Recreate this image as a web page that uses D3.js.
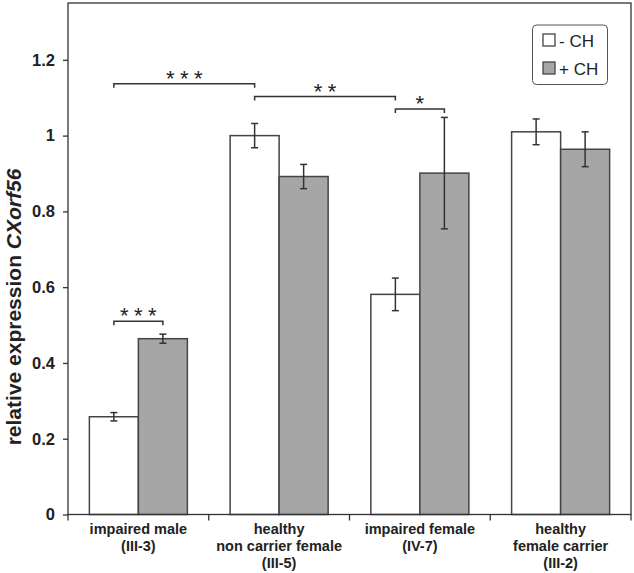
<!DOCTYPE html>
<html>
<head>
<meta charset="utf-8">
<script src="https://cdn.jsdelivr.net/npm/d3@7"></script>
<style>
  body { margin: 0; background: #fff; }
  svg { display: block; font-family: "Liberation Sans", Arial, sans-serif; }
</style>
</head>
<body>
<div id="chart"></div>
<script>
// data
const categories = ["III-3", "III-5", "IV-7", "III-2"];
const categoryLabels = [
  ["impaired male", "(III-3)"],
  ["healthy", "non carrier female", "(III-5)"],
  ["impaired female", "(IV-7)"],
  ["healthy", "female carrier", "(III-2)"]
];
const series = ["- CH", "+ CH"];
const minusCH = [0.258, 1.0, 0.581, 1.010];
const plusCH = [0.464, 0.892, 0.901, 0.964];
const minusErr = [0.011, 0.032, 0.043, 0.034];
const plusErr = [0.012, 0.032, 0.147, 0.046];
const yTicks = [0, 0.2, 0.4, 0.6, 0.8, 1, 1.2];
// significance brackets: [category, series] -> [category, series]
const brackets = [
  { from: [0, 0], to: [1, 0], level: 1.137, stars: 3 },
  { from: [1, 0], to: [2, 0], level: 1.103, stars: 2 },
  { from: [2, 0], to: [2, 1], level: 1.070, stars: 1 },
  { from: [0, 0], to: [0, 1], level: 0.510, stars: 3 }
];

const width = 634, height = 573;
const plotL = 68, plotR = 631, plotT = 3, plotB = 514.5;
const ink = "#333";

const svg = d3.select("#chart").append("svg")
  .attr("width", width).attr("height", height);

const x = d3.scaleBand().domain(categories).range([plotL, plotR]);
const x1 = d3.scaleBand().domain(series).range([0, x.bandwidth()]).paddingOuter(0.436);
const y = d3.scaleLinear().domain([0, 1.35]).range([plotB, plotT]);

const colour = { "- CH": "#ffffff", "+ CH": "#a6a6a6" };
const values = [minusCH, plusCH];
const errs = [minusErr, plusErr];

const rows = [];
categories.forEach((c, i) => {
  series.forEach((s, j) => {
    rows.push({ cat: c, s: s, v: values[j][i], e: errs[j][i] });
  });
});

// bars
svg.append("g").selectAll("rect")
  .data(rows)
  .enter().append("rect")
  .attr("x", d => x(d.cat) + x1(d.s))
  .attr("y", d => y(d.v))
  .attr("width", x1.bandwidth())
  .attr("height", d => y(0) - y(d.v))
  .attr("fill", d => colour[d.s])
  .attr("stroke", "#444")
  .attr("stroke-width", 1.5);

// error bars
const eb = svg.append("g").attr("stroke", ink).attr("stroke-width", 1.5);
rows.forEach(d => {
  const cx = x(d.cat) + x1(d.s) + x1.bandwidth() / 2;
  eb.append("line").attr("x1", cx).attr("x2", cx).attr("y1", y(d.v + d.e)).attr("y2", y(d.v - d.e));
  eb.append("line").attr("x1", cx - 3.5).attr("x2", cx + 3.5).attr("y1", y(d.v + d.e)).attr("y2", y(d.v + d.e));
  eb.append("line").attr("x1", cx - 3.5).attr("x2", cx + 3.5).attr("y1", y(d.v - d.e)).attr("y2", y(d.v - d.e));
});

// frame
svg.append("rect")
  .attr("x", plotL).attr("y", plotT)
  .attr("width", plotR - plotL).attr("height", plotB - plotT)
  .attr("fill", "none").attr("stroke", ink).attr("stroke-width", 1.3);

// y axis
const yAxis = svg.append("g")
  .attr("transform", `translate(${plotL},0)`)
  .call(d3.axisLeft(y).tickValues(yTicks).tickSize(5).tickPadding(8).tickFormat(d => String(d)));
yAxis.select(".domain").remove();
yAxis.selectAll("line").attr("stroke", ink).attr("stroke-width", 1.3);
yAxis.selectAll("text")
  .attr("fill", "#222").attr("font-size", 16.5).attr("font-weight", "bold")
  .attr("font-family", "Liberation Sans, Arial, sans-serif");

// x axis ticks at category boundaries
const bounds = categories.map(c => x(c)).concat([plotR]);
svg.append("g").selectAll("line")
  .data(bounds)
  .enter().append("line")
  .attr("x1", d => d).attr("x2", d => d)
  .attr("y1", plotB).attr("y2", plotB + 6)
  .attr("stroke", ink).attr("stroke-width", 1.3);

// x labels
const xl = svg.append("g");
categories.forEach((c, i) => {
  const cx = x(c) + x.bandwidth() / 2;
  const t = xl.append("text")
    .attr("x", cx)
    .attr("y", 534)
    .attr("text-anchor", "middle")
    .attr("font-size", 14.5).attr("font-weight", "bold").attr("fill", "#222");
  categoryLabels[i].forEach((line, k) => {
    t.append("tspan").attr("x", cx).attr("dy", k ? 17 : 0).text(line);
  });
});

// y title
const yt = svg.append("text")
  .attr("transform", `translate(21,307) rotate(-90)`)
  .attr("text-anchor", "middle")
  .attr("font-size", 21).attr("font-weight", "bold").attr("fill", "#222");
yt.append("tspan").text("relative expression ");
yt.append("tspan").attr("font-style", "italic").text("CXorf56");

// significance brackets
const bg = svg.append("g");
const barCenter = p => x(categories[p[0]]) + x1(series[p[1]]) + x1.bandwidth() / 2;
brackets.forEach(b => {
  const x0 = barCenter(b.from), x2 = barCenter(b.to), yy = y(b.level);
  bg.append("path")
    .attr("d", `M${x0},${yy + 4}V${yy}H${x2}V${yy + 4}`)
    .attr("fill", "none").attr("stroke", ink).attr("stroke-width", 1.5);
  const mid = (x0 + x2) / 2;
  d3.range(b.stars).forEach(k => {
    bg.append("text")
      .attr("x", mid + (k - (b.stars - 1) / 2) * 14)
      .attr("y", yy + 2)
      .attr("text-anchor", "middle")
      .attr("font-size", 22).attr("fill", "#222")
      .text("*");
  });
});

// legend
const lg = svg.append("g");
lg.append("rect")
  .attr("x", 532.5).attr("y", 25).attr("width", 75).attr("height", 59.5)
  .attr("rx", 4).attr("fill", "#fff").attr("stroke", "#555").attr("stroke-width", 1);
series.forEach((s, i) => {
  lg.append("rect")
    .attr("x", 543).attr("y", 34 + i * 28).attr("width", 12).attr("height", 12)
    .attr("fill", colour[s]).attr("stroke", "#444").attr("stroke-width", 1.3);
  lg.append("text")
    .attr("x", 559).attr("y", 46.5 + i * 28.5)
    .attr("font-size", 17).attr("fill", "#222")
    .text(s);
});
</script>
</body>
</html>
